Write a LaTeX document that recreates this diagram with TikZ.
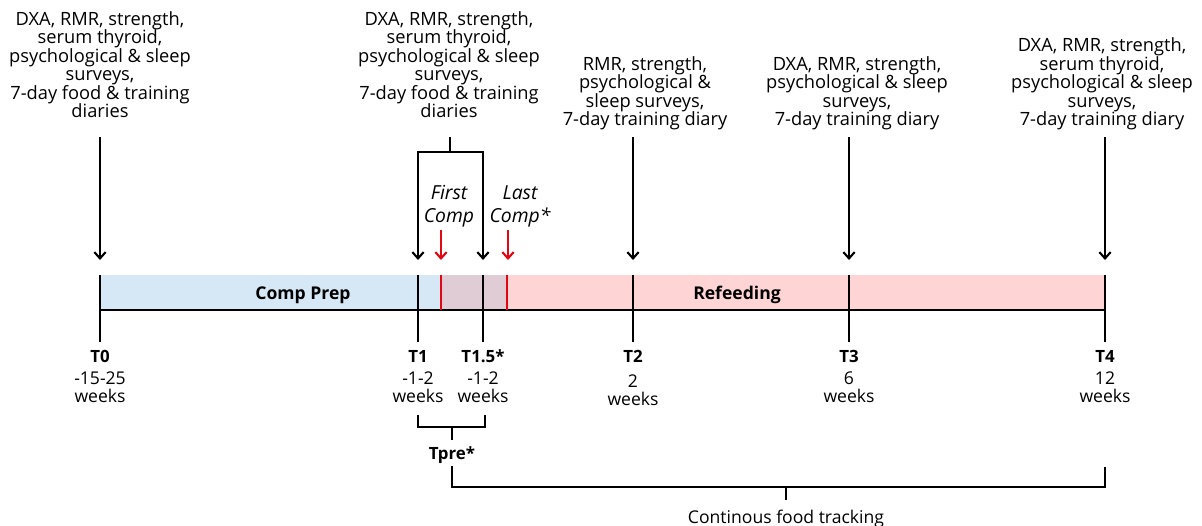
\documentclass[tikz,border=0pt]{standalone}
\usepackage{fontspec}
\setmainfont{Open Sans}
\usetikzlibrary{arrows.meta}
\definecolor{prepblue}{RGB}{214,232,245}
\definecolor{refeedpink}{RGB}{255,212,212}
\definecolor{overlapmauve}{RGB}{223,204,212}
\definecolor{compred}{RGB}{227,6,19}
\begin{document}
\begin{tikzpicture}[x=0.5mm, y=-0.5mm, line width=3pt,
  >={Straight Barb[length=9pt,width=16pt]},
  info/.style={align=center, inner sep=0pt, anchor=south, text depth=0pt,
    font=\fontsize{26}{26.2}\selectfont},
  weeks/.style={align=center, inner sep=0pt, anchor=south, text depth=0pt,
    font=\fontsize{25}{25.6}\selectfont},
  tlabel/.style={inner sep=0pt, anchor=base, font=\fontsize{24}{24}\selectfont\bfseries},
  phase/.style={inner sep=0pt, anchor=base, font=\fontsize{25}{25}\selectfont\bfseries},
  comp/.style={align=center, inner sep=0pt, anchor=south, text depth=0pt,
    font=\fontsize{27.5}{32.7}\selectfont\itshape},
  arr/.style={->, black},
  redarr/.style={->, compred},
  tick/.style={black},
  bracket/.style={black}]
\useasboundingbox (0,0) rectangle (1202,525);
% phases of the bar
\fill[prepblue] (100,275) rectangle (441,310);
\fill[overlapmauve] (441,275) rectangle (507,310);
\fill[refeedpink] (507,275) rectangle (1105,310);
\draw[line width=2.8pt] (100,310) -- (441,310);
\draw[line width=2pt] (441,310) -- (1105,310);
\draw[compred, line width=2.6pt] (441,275) -- (441,310);
\draw[compred, line width=2.6pt] (507,275) -- (507,310);
\node[phase] (prep) at (303,299) {Comp Prep};
\node[phase] (refeed) at (737,299) {Refeeding};
% time points
\foreach \n/\x/\t in {0/100/T0,1/418/T1,15/483/T1.5*,2/633/T2,3/849/T3,4/1105/T4} {
  \coordinate (top\n) at (\x,275);
  \coordinate (bot\n) at (\x,342);
  \draw[tick] (top\n) -- (bot\n);
  \node[tlabel] (t\n) at (\x,362) {\t};
}
\node[weeks] (w0) at (100,404) {-15-25\\weeks};
\node[weeks] (w1) at (418,404) {-1-2\\weeks};
\node[weeks] (w15) at (483,404) {-1-2\\weeks};
\node[weeks] (w2) at (633,407) {2\\weeks};
\node[weeks] (w3) at (849,404) {6\\weeks};
\node[weeks] (w4) at (1105,404) {12\\weeks};
% measurements
\node[info] (i0) at (100,118.5) {DXA, RMR, strength,\\serum thyroid,\\psychological \& sleep\\surveys,\\7-day food \& training\\diaries};
\node[info] (i1) at (449,118.5) {DXA, RMR, strength,\\serum thyroid,\\psychological \& sleep\\surveys,\\7-day food \& training\\diaries};
\node[info] (i2) at (645,126.5) {RMR, strength,\\psychological \&\\sleep surveys,\\7-day training diary};
\node[info] (i3) at (857,126.5) {DXA, RMR, strength,\\psychological \& sleep\\surveys,\\7-day training diary};
\node[info] (i4) at (1102,126.5) {DXA, RMR, strength,\\serum thyroid,\\psychological \& sleep\\surveys,\\7-day training diary};
\foreach \n/\x in {0/100,2/633,3/849,4/1105} {
  \coordinate (s\n) at (\x,137);
  \coordinate (e\n) at (\x,260);
  \draw[arr] (s\n) -- (e\n);
}
% T1 and T1.5 share one set
\coordinate (e1) at (418,260);
\coordinate (e15) at (483,260);
\coordinate (stem1) at (450,137);
\draw[<->] (e1) |- (e15 |- 0,152) -- (e15);
\draw[bracket] (stem1) -- (stem1 |- 0,152);
% competitions
\node[comp] (first) at (449,224) {First\\Comp};
\node[comp] (last) at (520,224) {Last\\Comp*};
\coordinate (f1) at (441,230);
\coordinate (f2) at (441,260);
\coordinate (l1) at (508,230);
\coordinate (l2) at (508,260);
\draw[redarr] (f1) -- (f2);
\draw[redarr] (l1) -- (l2);
% Tpre bracket and food tracking
\draw[bracket] (418,415) |- (485,427) -- (485,415);
\draw[bracket] (452,427) -- (452,440);
\node[tlabel] (tpre) at (452,459) {Tpre*};
\coordinate (c0) at (452,466);
\coordinate (c1) at (1105,467);
\draw[bracket] (c0) |- (c1 |- 0,487) -- (c1);
\draw[bracket] (786,487) -- (786,500);
\node[inner sep=0pt, anchor=base, font=\fontsize{25}{25}\selectfont] (track) at (786,523) {Continous food tracking};
\end{tikzpicture}
\end{document}
